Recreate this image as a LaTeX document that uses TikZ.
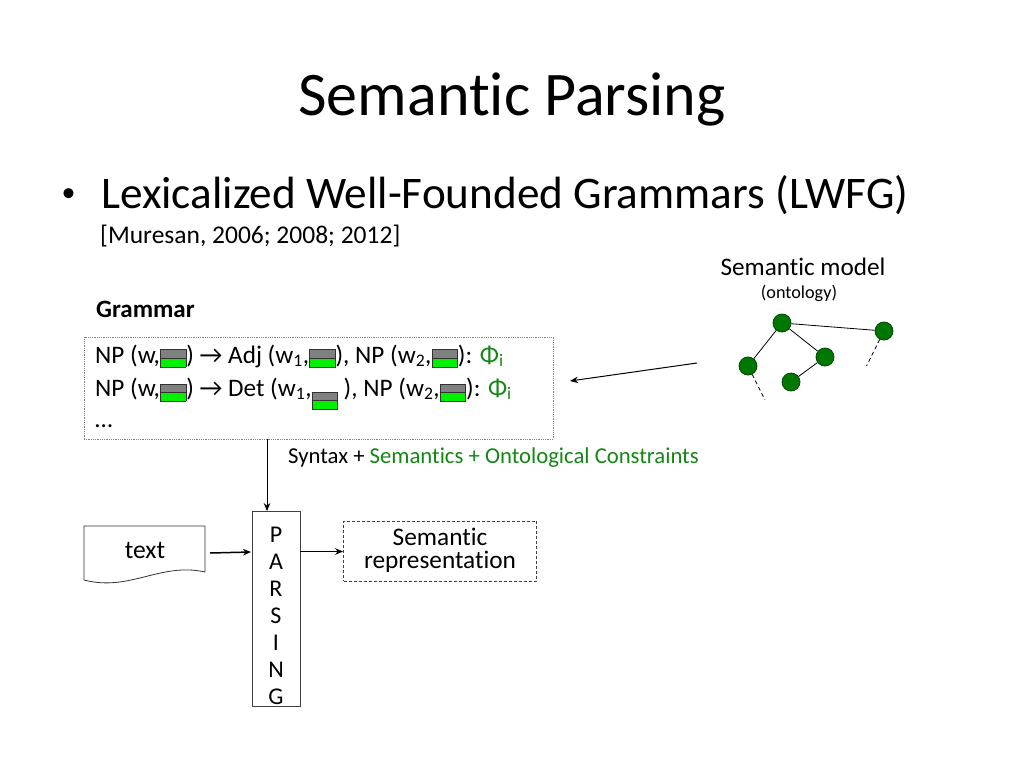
\documentclass[tikz,border=0pt]{standalone}
\usepackage{fontspec}
\setmainfont{Carlito}[Ligatures=NoCommon]
\usetikzlibrary{arrows.meta}
\definecolor{ggreen}{RGB}{20,135,20}
\definecolor{nodefill}{RGB}{0,120,0}
\definecolor{nodeedge}{RGB}{0,70,0}
\definecolor{bgray}{RGB}{128,128,128}
\definecolor{bgreen}{RGB}{0,240,0}
\definecolor{bedge}{RGB}{50,50,50}
\newcommand\gmbox[1]{\raisebox{#1}{\setlength\fboxsep{0pt}\setlength\fboxrule{0.7pt}\vbox{\hbox{\fcolorbox{bedge}{bgray}{\rule{0pt}{8pt}\hspace{25pt}}}\nointerlineskip\vskip-0.7pt\hbox{\fcolorbox{bedge}{bgreen}{\rule{0pt}{8pt}\hspace{25pt}}}}}}
\newcommand\fsz[1]{\fontsize{#1}{#1}\selectfont}
\begin{document}
\begin{tikzpicture}[x=1pt,y=-1pt,
  arr/.style={-{Stealth[length=8pt,width=6.5pt]},line width=1pt},
  arrthick/.style={-{Stealth[length=8pt,width=6.5pt]},line width=1.5pt},
  onode/.style={circle,draw=nodeedge,fill=nodefill,line width=0.8pt,minimum size=18pt,inner sep=0},
  txt/.style={inner sep=0,anchor=base west},
  ]
\useasboundingbox[fill=white] (0,0) rectangle (1024,768);

% title and bullet
\node[inner sep=0,anchor=base] (title) at (512,115) {\fsz{62}Semantic Parsing};
\node[inner sep=0] (bullet) at (68.5,195) {\fsz{28}•};
\node[txt] (lwfg) at (101,208) {\fsz{45.2}Lexicalized Well-Founded Grammars (LWFG)};
\node[txt] (cite) at (100,243) {\fsz{25.5}[Muresan, 2006; 2008; 2012]};

% semantic model
\node[inner sep=0,anchor=base] (smodel) at (803,275) {\fsz{25.2}Semantic model};
\node[inner sep=0,anchor=base] (onto) at (799,298) {\fsz{18.2}(ontology)};
\node[onode] (o1) at (782,323) {};
\node[onode] (o2) at (884,331) {};
\node[onode] (o3) at (825,357) {};
\node[onode] (o4) at (748,366) {};
\node[onode] (o5) at (791,382) {};
\draw[line width=0.8pt] (o1) -- (o2);
\draw[line width=0.8pt] (o1) -- (o3);
\draw[line width=0.8pt] (o1) -- (o4);
\draw[line width=0.8pt] (o3) -- (o5);
\coordinate (d2) at (866.5,366);
\coordinate (d4) at (765,400);
\draw[line width=0.8pt,dashed,dash pattern=on 4pt off 3pt] (o2) -- (d2);
\draw[line width=0.8pt,dashed,dash pattern=on 4pt off 3pt] (o4) -- (d4);

% grammar
\node[txt,font=\bfseries] (gtitle) at (96,317) {\fsz{25}Grammar};
\node[draw=gray,densely dotted,line width=0.8pt,minimum width=469pt,minimum height=102pt,inner sep=0] (gram) at (318.5,388) {};
\node[txt] (r1) at (95,363) {\fsz{25.2}NP (w,\gmbox{-3.5pt}) → Adj (w\textsubscript{1},\gmbox{-3.5pt}), NP (w\textsubscript{2},\gmbox{-3.5pt}): \textcolor{ggreen}{Φ\textsubscript{i}}};
\node[txt] (r2) at (95,396) {\fsz{25.2}NP (w,\gmbox{-5pt}) → Det (w\textsubscript{1},\gmbox{-13pt} ), NP (w\textsubscript{2},\gmbox{-5pt}): \textcolor{ggreen}{Φ\textsubscript{i}}};
\node[txt] (r3) at (95,427) {\fsz{25.2}…};

\coordinate (oarrs) at (697,363);
\coordinate (oarre) at (570,381);
\draw[arr] (oarrs) -- (oarre);

\node[txt] (syn) at (288,463) {\fsz{22.7}Syntax + \textcolor{ggreen}{Semantics + Ontological Constraints}};

% parsing
\node[draw=black!75,line width=0.8pt,minimum width=48pt,minimum height=195pt,inner sep=0] (parse) at (276,609) {};
\foreach \l/\yy [count=\i] in {P/535,A/562,R/589,S/616,I/643,N/670,G/697}
  \node[inner sep=0] (pl\i) at (276,\yy) {\fsz{24}\l};

\coordinate (vx) at (267,0);
\draw[arr] (gram.south -| vx) -- (parse.north -| vx);

% text doc
\draw[line width=0.8pt,draw=black!80] (84,526) -- (205,526) -- (205,572) .. controls (160,562) and (130,592) .. (84,580) -- cycle;
\node[inner sep=0] (textn) at (145,550) {\fsz{25.6}text};
\coordinate (ta) at (210,553);
\coordinate (tb) at (251,552);
\draw[arrthick] (ta) -- (tb);

% semantic representation
\node[draw=black!75,dashed,dash pattern=on 3pt off 2pt,line width=0.8pt,minimum width=193pt,minimum height=60pt,inner sep=0] (semrep) at (440,551) {};
\node[inner sep=0,anchor=base] (sr1) at (440,545) {\fsz{25.3}Semantic};
\node[inner sep=0,anchor=base] (sr2) at (440,568) {\fsz{25.3}representation};
\coordinate (pa) at (300,551.5);
\draw[arrthick] (pa) -- (semrep.west |- pa);
\end{tikzpicture}
\end{document}
